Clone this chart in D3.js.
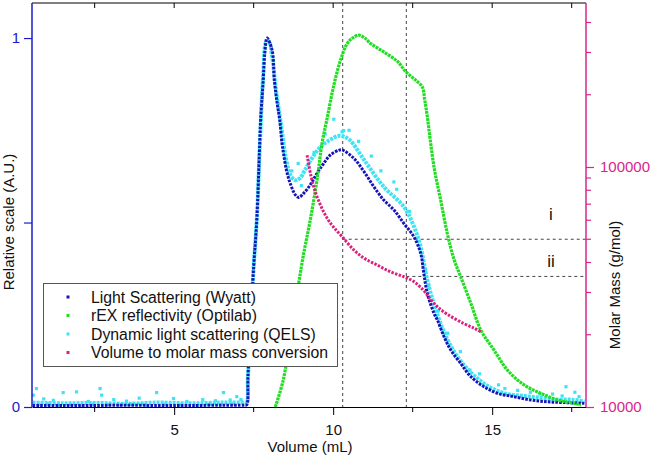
<!DOCTYPE html>
<html><head><meta charset="utf-8">
<script src="https://cdn.jsdelivr.net/npm/d3@7"></script>
<style>body{margin:0;background:#fff}svg{display:block;font-family:"Liberation Sans",Arial,sans-serif}</style>
</head><body><svg id="c" width="653" height="466"></svg>
<script>
// ---- data (volume mL, value) ----
const lsVol = [0.55,1.5,2.5,3.5,4.5,5.5,6.5,7.2,7.28,7.32,7.40,7.50,7.60,7.68,7.72,7.80,7.85,7.92,8.08,8.15,8.24,8.32,8.39,8.44,8.53,8.65,8.81,8.92,9.07,9.28,9.49,9.70,9.91,10.18,10.28,10.65,10.97,11.28,11.59,11.91,12.22,12.54,12.75,12.85,12.96,13.17,13.28,13.49,13.70,14.01,14.33,14.74,15.17,15.69,16.22,16.74,17.27,17.9];
const lsVal = [0.004,0.004,0.004,0.005,0.004,0.004,0.005,0.005,0.006,0.08,0.22,0.38,0.51,0.69,0.78,0.886,0.96,1.0,0.967,0.886,0.823,0.778,0.715,0.687,0.642,0.606,0.575,0.568,0.579,0.602,0.633,0.66,0.683,0.696,0.697,0.674,0.638,0.597,0.561,0.534,0.498,0.461,0.417,0.362,0.308,0.254,0.235,0.19,0.154,0.118,0.082,0.055,0.037,0.028,0.019,0.014,0.012,0.01];

const rexVol = [8.18,8.43,8.65,8.87,9.06,9.28,9.50,9.66,9.81,10.01,10.23,10.44,10.61,10.80,10.99,11.18,11.58,12.03,12.28,12.59,12.80,12.88,12.96,13.17,13.38,13.59,13.80,14.01,14.33,14.64,15.06,15.48,16.0,16.53,17.06,17.58,17.79];
const rexVal = [0.0,0.073,0.19,0.31,0.41,0.507,0.62,0.72,0.782,0.868,0.94,0.985,1.0,1.008,1.0,0.985,0.963,0.936,0.909,0.886,0.868,0.832,0.787,0.651,0.561,0.47,0.40,0.353,0.281,0.209,0.154,0.1,0.06,0.037,0.019,0.01,0.005];

const qelsVol = [0.55,1.5,2.5,3.5,4.5,5.5,6.5,7.2,7.28,7.32,7.40,7.50,7.60,7.70,7.80,7.90,7.98,8.08,8.20,8.30,8.40,8.50,8.65,8.80,8.95,9.10,9.30,9.60,9.90,10.20,10.50,10.97,11.59,12.22,12.54,12.75,12.96,13.20,13.50,13.80,14.10,14.50,15.0,15.5,16.0,16.5,17.0,17.5,17.9];
const qelsVal = [0.012,0.01,0.011,0.009,0.012,0.01,0.012,0.012,0.012,0.08,0.22,0.38,0.51,0.72,0.90,0.99,0.99,0.95,0.86,0.80,0.74,0.68,0.63,0.615,0.62,0.64,0.67,0.705,0.724,0.735,0.725,0.67,0.597,0.543,0.489,0.434,0.344,0.27,0.20,0.15,0.115,0.08,0.05,0.035,0.03,0.025,0.02,0.02,0.015];
// scattered QELS points
const qelsOutVol = [0.57,0.67,0.9,1.2,1.51,1.93,2.3,2.67,2.72,3.1,3.5,3.9,4.45,4.98,5.4,5.9,6.3,6.55,6.76,6.97,7.1,
  0.75,1.05,1.35,1.75,2.1,2.45,2.9,3.3,3.7,4.1,4.7,5.2,5.65,6.1,6.45,6.85,
  8.7,8.9,9.0,9.4,9.75,10.02,10.28,10.33,10.5,10.8,11.2,11.5,11.91,12.0,12.4,12.9,13.0,13.3,13.6,14.0,14.3,14.6,15.2,15.4,15.8,16.2,16.5,16.9,17.2,17.32,17.6,17.73];
const qelsOutVal = [0.032,0.05,0.022,0.018,0.039,0.041,0.015,0.05,0.032,0.02,0.016,0.024,0.039,0.023,0.015,0.02,0.017,0.039,0.019,0.028,0.02,
  0.006,0.008,0.005,0.007,0.004,0.008,0.006,0.005,0.007,0.005,0.008,0.006,0.005,0.007,0.006,0.008,
  0.64,0.66,0.60,0.69,0.74,0.78,0.746,0.749,0.75,0.72,0.68,0.64,0.61,0.59,0.53,0.37,0.33,0.26,0.2,0.15,0.10,0.09,0.06,0.05,0.045,0.04,0.035,0.035,0.03,0.055,0.04,0.028];

const mmVol = [9.18,9.30,9.42,9.55,9.70,9.85,10.02,10.28,10.65,10.97,11.39,11.80,12.22,12.54,12.85,13.07,13.30,13.60,14.10,14.43,14.64];
const mmVal = [112000,92000,80000,72000,65000,60000,56000,51300,45100,41700,39000,36600,34900,33300,30500,28000,26000,24300,22300,21300,20600];

const markVol = [10.3,12.3];          // vertical dashed lines
const markMass = [50000,35000];       // horizontal dashed lines
const markLabels = ["i","ii"];

const xTicks = [5,10,15];
const xMinor = [2.5,7.5,12.5,17.5];
const yTicks = [0,0.5,1];
const yTickLabels = ["0","","1"];
const rTicks = [10000,100000];
const rMinor = [20000,30000,40000,50000,60000,70000,80000,90000,200000,300000,400000];

const seriesNames = ["Light Scattering (Wyatt)","rEX reflectivity (Optilab)","Dynamic light scattering (QELS)","Volume to molar mass conversion"];
const colors = ["#1414b8","#22dd22","#3fe3f3","#dc1f7c"];
const leftAxisColor = "#1a1ad0", rightAxisColor = "#d8278a";

// ---- layout ----
const L=32, R=586, T=3, B=407;
const svg = d3.select("#c");
const x = d3.scaleLinear().domain([0.53,17.95]).range([L,R]);
const y = d3.scaleLinear().domain([0,1.095]).range([B,T]);
const yR = d3.scaleLog().domain([10000, Math.pow(10,5+164/240)]).range([B,T]);

const zip = (a,b)=>a.map((v,i)=>[v,b[i]]);
const line = d3.line().x(d=>x(d[0])).y(d=>y(d[1])).curve(d3.curveCatmullRom.alpha(0.5));
const lineR = d3.line().x(d=>x(d[0])).y(d=>yR(d[1])).curve(d3.curveCatmullRom.alpha(0.5));

const g = svg.append("g");
// dashed guide lines
markVol.forEach(v=>g.append("line").attr("x1",x(v)).attr("x2",x(v)).attr("y1",T).attr("y2",B)
  .attr("stroke","#444").attr("stroke-width",1).attr("stroke-dasharray","3,3"));
markMass.forEach((m,i)=>g.append("line").attr("x1",x(markVol[i])).attr("x2",R).attr("y1",yR(m)).attr("y2",yR(m))
  .attr("stroke","#444").attr("stroke-width",1).attr("stroke-dasharray","3,3"));
markLabels.forEach((t,i)=>{
  const yy = i===0 ? (yR(markMass[0])-25) : (yR(markMass[1])-15);
  g.append("text").attr("x",551).attr("y",yy+6).attr("text-anchor","middle").attr("font-size",17).attr("fill","#111").text(t);
});

function dotted(data, gen, color, w, dash){
  g.append("path").datum(data).attr("d",gen).attr("fill","none").attr("stroke",color)
   .attr("stroke-width",w).attr("stroke-dasharray",dash);
}
dotted(zip(qelsVol,qelsVal), line, colors[2], 4, "3,1");
g.selectAll("rect.q").data(zip(qelsOutVol,qelsOutVal)).join("rect").attr("class","q")
  .attr("x",d=>x(d[0])-1.6).attr("y",d=>y(d[1])-1.6).attr("width",3.2).attr("height",3.2).attr("fill",colors[2]);
dotted(zip(lsVol,lsVal), line, colors[0], 3, "2.6,1.2");
dotted(zip(rexVol,rexVal), line, colors[1], 3.2, "2.8,0.8");
dotted(zip(mmVol,mmVal), lineR, colors[3], 3, "2.4,1.4");

// ---- axes ----
const fs = 15;
// bottom
const xb = svg.append("g").attr("transform",`translate(0,${B})`);
xb.call(d3.axisBottom(x).tickValues(xTicks).tickSize(8).tickSizeOuter(0).tickFormat(d3.format("d")));
xb.selectAll("text").attr("font-size",fs).attr("fill","#111").attr("dy","1.1em");
xb.select(".domain").attr("stroke","#000");
xb.selectAll(".tick line").attr("stroke","#000");
xMinor.forEach(v=>xb.append("line").attr("x1",x(v)).attr("x2",x(v)).attr("y1",0).attr("y2",5).attr("stroke","#000"));
// top border with inward ticks
const xt = svg.append("g");
xt.append("line").attr("x1",L).attr("x2",R).attr("y1",T).attr("y2",T).attr("stroke","#000");
xTicks.concat(xMinor).forEach(v=>xt.append("line").attr("x1",x(v)).attr("x2",x(v)).attr("y1",T).attr("y2",T+5).attr("stroke","#000"));
// left
const yl = svg.append("g").attr("transform",`translate(${L},0)`);
yl.call(d3.axisLeft(y).tickValues(yTicks).tickSize(8).tickSizeOuter(0).tickFormat((d,i)=>yTickLabels[i]));
yl.select(".domain").attr("stroke",leftAxisColor).attr("stroke-width",1.5).attr("d",`M0,${B}V${T}`);
yl.selectAll(".tick line").attr("stroke",leftAxisColor).attr("stroke-width",1.2);
yl.selectAll("text").attr("font-size",fs).attr("fill",leftAxisColor).attr("x",-12);
// right
const yr = svg.append("g").attr("transform",`translate(${R},0)`);
yr.call(d3.axisRight(yR).tickValues(rTicks).tickSize(8).tickSizeOuter(0).tickFormat(d3.format("d")));
yr.select(".domain").attr("stroke",rightAxisColor).attr("stroke-width",1.5).attr("d",`M0,${B}V${T}`);
yr.selectAll(".tick line").attr("stroke",rightAxisColor).attr("stroke-width",1.2);
yr.selectAll("text").attr("font-size",fs).attr("fill",rightAxisColor).attr("x",14);
rMinor.forEach(m=>yr.append("line").attr("x1",0).attr("x2",5).attr("y1",yR(m)).attr("y2",yR(m)).attr("stroke",rightAxisColor).attr("stroke-width",1.2));

// titles
svg.append("text").attr("x",310).attr("y",452).attr("text-anchor","middle").attr("font-size",fs).attr("fill","#111").text("Volume (mL)");
svg.append("text").attr("transform","translate(14,222) rotate(-90)").attr("text-anchor","middle").attr("font-size",fs).attr("fill","#111").text("Relative scale (A.U.)");
svg.append("text").attr("transform","translate(620,285) rotate(-90)").attr("text-anchor","middle").attr("font-size",fs).attr("fill","#111").text("Molar Mass (g/mol)");

// legend
const lg = svg.append("g");
lg.append("rect").attr("x",43.5).attr("y",283.5).attr("width",294).attr("height",83).attr("fill","#fff").attr("stroke","#555");
seriesNames.forEach((n,i)=>{
  const yy = 297 + i*18.5;
  lg.append("rect").attr("x",66.5).attr("y",yy-1.5).attr("width",3).attr("height",3).attr("fill",colors[i]);
  lg.append("text").attr("x",91).attr("y",yy+5.5).attr("font-size",15.8).attr("fill","#111").text(n);
});
</script></body></html>
